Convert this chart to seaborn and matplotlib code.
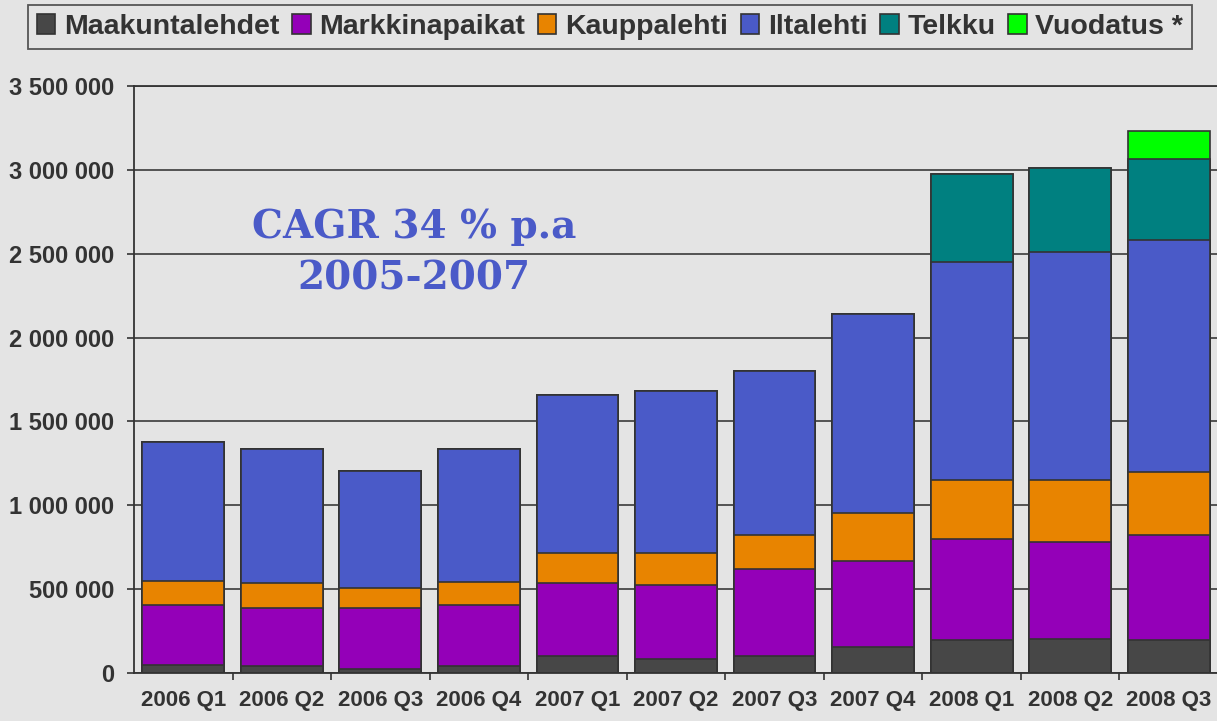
import pandas as pd
import seaborn as sns
import matplotlib.pyplot as plt
from matplotlib.patches import Patch
from matplotlib.ticker import FuncFormatter, MultipleLocator, FixedLocator

# data (visitors per quarter)
quarters = ["2006 Q1", "2006 Q2", "2006 Q3", "2006 Q4", "2007 Q1", "2007 Q2",
            "2007 Q3", "2007 Q4", "2008 Q1", "2008 Q2", "2008 Q3"]
maakuntalehdet = [48000, 40000, 25000, 42000, 101000, 84000, 100000, 153000, 195000, 200000, 195000]
markkinapaikat = [357000, 349000, 363000, 364000, 436000, 441000, 523000, 514000, 605000, 579000, 628000]
kauppalehti = [144000, 146000, 120000, 139000, 181000, 191000, 199000, 286000, 348000, 374000, 374000]
iltalehti = [827000, 801000, 697000, 790000, 939000, 965000, 980000, 1189000, 1300000, 1355000, 1383000]
telkku = [0, 0, 0, 0, 0, 0, 0, 0, 529000, 503000, 483000]
vuodatus = [0, 0, 0, 0, 0, 0, 0, 0, 0, 0, 166000]

series = ["Maakuntalehdet", "Markkinapaikat", "Kauppalehti", "Iltalehti", "Telkku", "Vuodatus *"]
colors = ["#474747", "#9400B8", "#E88400", "#4A5AC8", "#008080", "#00FF00"]

df = pd.DataFrame({
    "quarter": quarters,
    "Maakuntalehdet": maakuntalehdet,
    "Markkinapaikat": markkinapaikat,
    "Kauppalehti": kauppalehti,
    "Iltalehti": iltalehti,
    "Telkku": telkku,
    "Vuodatus *": vuodatus,
})
cum = df[series].cumsum(axis=1)
cum["quarter"] = df["quarter"]

bg = "#E4E4E4"
ink = "#333333"
plt.rcParams["font.family"] = ["Liberation Sans", "DejaVu Sans"]

fig = plt.figure(figsize=(12.17, 7.21), dpi=100, facecolor=bg)
ax = fig.add_axes([134 / 1217, 48 / 721, (1218 - 134) / 1217, (673 - 86) / 721])
ax.set_facecolor(bg)

# stacked bars: draw cumulative totals from the top series down
for name, col in zip(reversed(series), reversed(colors)):
    sns.barplot(data=cum, x="quarter", y=name, order=quarters, color=col,
                saturation=1, width=0.83, edgecolor=ink, linewidth=1.2,
                errorbar=None, ax=ax)

ax.set_xlim(-0.5, len(quarters) - 0.5)
ax.set_ylim(0, 3500000)
ax.yaxis.set_major_locator(MultipleLocator(500000))
ax.yaxis.set_major_formatter(FuncFormatter(lambda v, p: f"{int(v):,}".replace(",", " ")))
ax.yaxis.grid(True, color="#3a3a3a", linewidth=1.2)
ax.set_axisbelow(True)
ax.set_xlabel("")
ax.set_ylabel("")

for s in ["left", "bottom", "top"]:
    ax.spines[s].set_color(ink)
    ax.spines[s].set_linewidth(1.3)
ax.spines["right"].set_visible(False)

ax.tick_params(axis="y", length=5, width=1.2, color=ink, pad=9, labelsize=17, labelcolor=ink)
ax.tick_params(axis="x", which="major", length=0, pad=12, labelsize=16, labelcolor=ink)
ax.xaxis.set_minor_locator(FixedLocator([i + 0.5 for i in range(len(quarters))]))
ax.tick_params(axis="x", which="minor", length=5, width=1.2, color=ink)
for lab in ax.get_xticklabels() + ax.get_yticklabels():
    lab.set_fontweight("bold")

handles = [Patch(facecolor=c, edgecolor=ink, linewidth=1.2, label=s) for s, c in zip(series, colors)]
leg = fig.legend(handles=handles, loc="center", bbox_to_anchor=(610 / 1217, 1 - 27 / 721),
                 ncol=6, frameon=True, fancybox=False, facecolor=bg, edgecolor=ink,
                 prop={"weight": "bold", "size": 20.5}, handlelength=0.65, handleheight=0.65,
                 handletextpad=0.3, columnspacing=0.45, borderpad=0.3, labelcolor=ink)
leg.get_frame().set_linewidth(1.3)

fig.text(414 / 1217, 1 - 253 / 721, "CAGR 34 % p.a\n2005-2007", ha="center", va="center",
         multialignment="center", family="DejaVu Serif", weight="bold", size=28,
         color="#4A5AC8", linespacing=1.45)

plt.savefig("out.png", dpi=100, facecolor=bg)
